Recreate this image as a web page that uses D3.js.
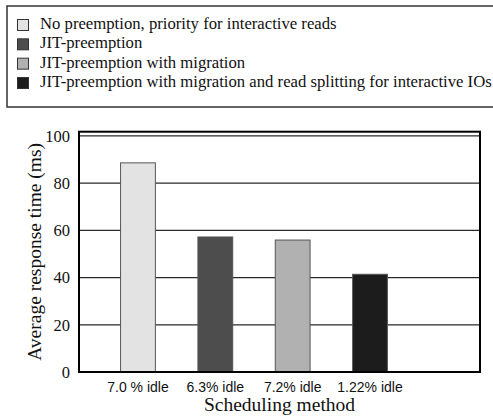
<!DOCTYPE html>
<html>
<head>
<meta charset="utf-8">
<script src="https://d3js.org/d3.v7.min.js"></script>
<style>
  body { margin: 0; background: #fff; }
  svg { display: block; }
</style>
</head>
<body>
<div id="chart"></div>
<script>
// data
var methods = ["No preemption, priority for interactive reads",
               "JIT-preemption",
               "JIT-preemption with migration",
               "JIT-preemption with migration and read splitting for interactive IOs"];
var idleLabels = ["7.0 % idle", "6.3% idle", "7.2% idle", "1.22% idle"];
var responseTimes = [88.6, 57.2, 55.9, 41.4];
var yTicks = [0, 20, 40, 60, 80, 100];
var barColors = ["#e3e3e3", "#4d4d4d", "#b1b1b1", "#1c1c1c"];

var width = 493, height = 418;
var serif = "'Liberation Serif', 'Times New Roman', serif";
var sans = "'Liberation Sans', Arial, sans-serif";

var svg = d3.select("#chart").append("svg")
    .attr("width", width)
    .attr("height", height);

// legend box (runs off the right edge like the original)
var legend = svg.append("g");
legend.append("rect")
    .attr("x", 7).attr("y", 6)
    .attr("width", 500).attr("height", 101)
    .attr("fill", "#fff")
    .attr("stroke", "#333")
    .attr("stroke-width", 1.5);

var legendRow = d3.scalePoint().domain(methods).range([25, 83]);

legend.selectAll("rect.sw")
  .data(methods)
  .enter().append("rect")
    .attr("class", "sw")
    .attr("x", 17.5)
    .attr("y", function(d) { return legendRow(d) - 5.5; })
    .attr("width", 11).attr("height", 11)
    .attr("fill", function(d, i) { return barColors[i]; })
    .attr("stroke", "#333")
    .attr("stroke-width", 1);

legend.selectAll("text")
  .data(methods)
  .enter().append("text")
    .attr("x", 40)
    .attr("y", function(d) { return legendRow(d) + 4; })
    .attr("font-family", serif)
    .attr("font-size", "16.7px")
    .attr("fill", "#111")
    .text(function(d) { return d; });

// plot area
var pLeft = 79, pRight = 480, pTop = 131.7, pBottom = 372;
var yMax = 101.8; // frame sits a little above the 100 gridline

var y = d3.scaleLinear().domain([0, yMax]).range([pBottom, pTop]);
var x = d3.scaleBand()
    .domain(idleLabels)
    .range([99.3, 408.7])
    .paddingInner(0.55)
    .paddingOuter(0.275);

var plot = svg.append("g");

// gridlines
plot.selectAll("line.grid")
  .data(yTicks.filter(function(t) { return t > 0; }))
  .enter().append("line")
    .attr("class", "grid")
    .attr("x1", pLeft).attr("x2", pRight)
    .attr("y1", function(d) { return y(d); })
    .attr("y2", function(d) { return y(d); })
    .attr("stroke", "#2a2a2a")
    .attr("stroke-width", 1.2);

// bars
plot.selectAll("rect.bar")
  .data(responseTimes)
  .enter().append("rect")
    .attr("class", "bar")
    .attr("x", function(d, i) { return x(idleLabels[i]); })
    .attr("y", function(d) { return y(d); })
    .attr("width", x.bandwidth())
    .attr("height", function(d) { return pBottom - y(d); })
    .attr("fill", function(d, i) { return barColors[i]; })
    .attr("stroke", "#555")
    .attr("stroke-width", 1);

// frame
plot.append("rect")
    .attr("x", pLeft).attr("y", pTop)
    .attr("width", pRight - pLeft).attr("height", pBottom - pTop)
    .attr("fill", "none")
    .attr("stroke", "#000")
    .attr("stroke-width", 2);

// y axis labels
var yAxis = d3.axisLeft(y).tickValues(yTicks).tickSize(0).tickPadding(9);
var yg = svg.append("g")
    .attr("transform", "translate(" + pLeft + ",0)")
    .call(yAxis);
yg.select(".domain").remove();
yg.selectAll("text")
    .attr("font-family", serif)
    .attr("font-size", "16.5px")
    .attr("fill", "#111");

// x axis labels
var xAxis = d3.axisBottom(x).tickSize(0).tickPadding(10);
var xg = svg.append("g")
    .attr("transform", "translate(0," + pBottom + ")")
    .call(xAxis);
xg.select(".domain").remove();
xg.selectAll("text")
    .attr("font-family", sans)
    .attr("font-size", "14px")
    .attr("fill", "#111");

// axis titles
svg.append("text")
    .attr("x", (pLeft + pRight) / 2)
    .attr("y", 411)
    .attr("text-anchor", "middle")
    .attr("font-family", serif)
    .attr("font-size", "19.5px")
    .attr("fill", "#111")
    .text("Scheduling method");

svg.append("text")
    .attr("transform", "translate(41," + (pTop + pBottom) / 2 + ") rotate(-90)")
    .attr("text-anchor", "middle")
    .attr("font-family", serif)
    .attr("font-size", "19.5px")
    .attr("fill", "#111")
    .text("Average response time (ms)");
</script>
</body>
</html>
